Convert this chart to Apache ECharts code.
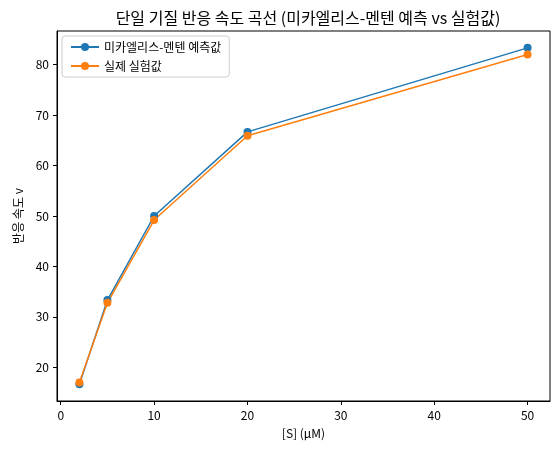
<!DOCTYPE html>
<html><head><meta charset="utf-8">
<script src="https://cdn.jsdelivr.net/npm/echarts@6/dist/echarts.min.js"></script>
<style>html,body{margin:0;padding:0;background:#fff}#c{width:560px;height:455px}</style>
</head><body><div id="c"></div>
<script>
const S = [2, 5, 10, 20, 50];
const predicted = [16.67, 33.33, 50.0, 66.67, 83.33];
const measured = [17.0, 32.8, 49.2, 65.9, 82.0];
const xTicks = [0, 10, 20, 30, 40, 50];
const yTicks = [20, 30, 40, 50, 60, 70, 80];
const font = '"Noto Sans CJK KR", "DejaVu Sans", sans-serif';
const chart = echarts.init(document.getElementById('c'));
const axisCommon = {
  axisLine: {onZero: false, lineStyle: {color: '#000'}},
  axisTick: {show: true, inside: false, length: 4, lineStyle: {color: '#000'}},
  axisLabel: {color: '#000', fontSize: 12, fontFamily: font},
  splitLine: {show: false},
  nameTextStyle: {color: '#000', fontSize: 12, fontFamily: font}
};
chart.setOption({
  animation: false,
  title: {text: '단일 기질 반응 속도 곡선 (미카엘리스-멘텐 예측 vs 실험값)', left: 303, top: 5, textAlign: 'center',
    textStyle: {fontSize: 16, fontWeight: 'normal', color: '#000', fontFamily: font}},
  grid: {left: 57, right: 10, top: 31, bottom: 54, show: true, borderColor: '#000', borderWidth: 1},
  legend: {left: 62, top: 36, orient: 'vertical', itemWidth: 28, itemHeight: 10, itemGap: 7,
    backgroundColor: '#fff', borderColor: '#ccc', borderWidth: 1, borderRadius: 3, padding: [5, 8],
    textStyle: {fontSize: 12, color: '#000', fontFamily: font},
    data: ['미카엘리스-멘텐 예측값', '실제 실험값']},
  xAxis: Object.assign({}, axisCommon, {type: 'value', min: -0.4, max: 52.4, name: '[S] (μM)',
    nameLocation: 'middle', nameGap: 26,
    axisTick: Object.assign({}, axisCommon.axisTick, {customValues: xTicks}),
    axisLabel: Object.assign({}, axisCommon.axisLabel, {customValues: xTicks})}),
  yAxis: Object.assign({}, axisCommon, {type: 'value', min: 13.33, max: 86.67, name: '반응 속도 v',
    nameLocation: 'middle', nameGap: 33,
    axisTick: Object.assign({}, axisCommon.axisTick, {customValues: yTicks}),
    axisLabel: Object.assign({}, axisCommon.axisLabel, {customValues: yTicks})}),
  series: [
    {name: '미카엘리스-멘텐 예측값', type: 'line', data: S.map((s, i) => [s, predicted[i]]),
      color: '#1f77b4', symbol: 'circle', symbolSize: 8, lineStyle: {width: 1.5}},
    {name: '실제 실험값', type: 'line', data: S.map((s, i) => [s, measured[i]]),
      color: '#ff7f0e', symbol: 'circle', symbolSize: 8, lineStyle: {width: 1.5}}
  ]
});
</script></body></html>
